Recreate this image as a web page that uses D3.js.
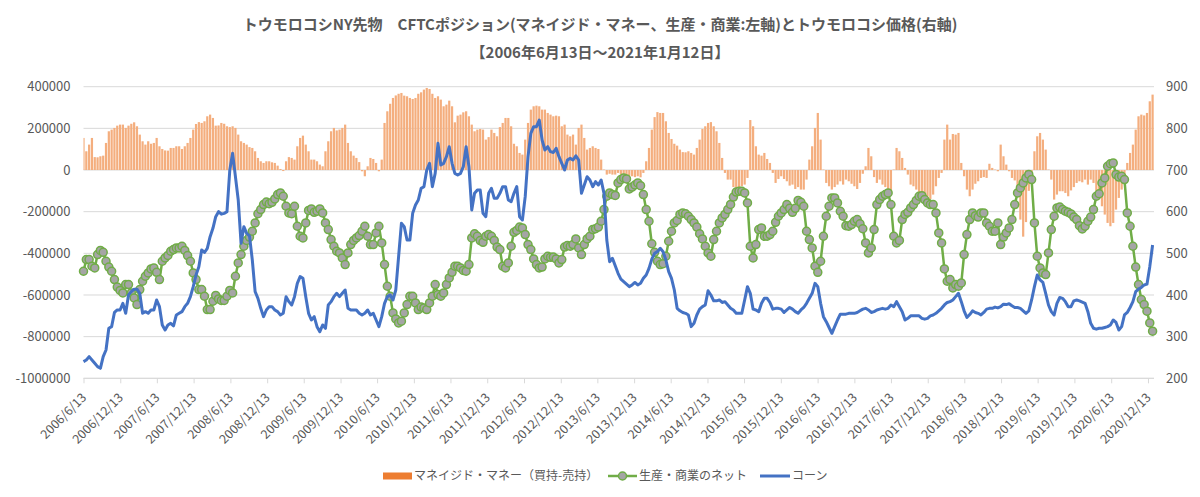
<!DOCTYPE html>
<html><head><meta charset="utf-8">
<script src="https://cdn.jsdelivr.net/npm/d3@7"></script>
<style>
body{margin:0;background:#fff;}
text{font-family:"Noto Sans CJK JP","Noto Sans",sans-serif;}
</style>
</head><body>
<svg id="chart" width="1200" height="497"></svg>
<script>
// ---------- DATA (2-weekly samples) ----------
const startDate = "2006-06-13";
const endDate = "2021-01-12";
const stepDays = 14;

// マネイジド・マネー（買持-売持） (contracts)
const managedMoney = [
154000,90000,122000,154000,62000,61000,66000,69000,130000,186000,
194000,202000,213000,218000,218000,202000,213000,222000,229000,210000,
170000,138000,122000,138000,126000,130000,154000,114000,101000,94000,
93000,106000,106000,114000,114000,101000,114000,130000,154000,194000,
221000,230000,226000,234000,258000,266000,250000,213000,214000,226000,
222000,210000,206000,210000,202000,170000,138000,130000,122000,110000,
106000,90000,58000,42000,34000,42000,42000,37000,34000,21000,
5000,-5000,42000,62000,58000,50000,114000,154000,165000,122000,
90000,50000,50000,42000,26000,18000,90000,138000,186000,202000,
190000,194000,202000,218000,130000,90000,69000,58000,38000,-6000,
-30000,18000,58000,53000,34000,-6000,50000,226000,282000,318000,
346000,358000,366000,370000,357000,354000,346000,341000,346000,366000,
373000,386000,394000,389000,366000,346000,354000,338000,306000,314000,
333000,306000,229000,261000,266000,277000,282000,258000,218000,186000,
194000,197000,194000,146000,158000,194000,178000,162000,206000,226000,
250000,250000,210000,126000,114000,82000,74000,146000,226000,290000,
306000,309000,306000,290000,290000,274000,266000,258000,261000,258000,
210000,218000,170000,162000,170000,122000,202000,218000,154000,98000,
106000,114000,106000,101000,50000,2000,-22000,-18000,-22000,-22000,
-14000,-22000,-27000,-27000,-27000,-30000,-34000,-30000,-35000,-14000,
42000,106000,194000,254000,278000,274000,274000,234000,178000,149000,
126000,117000,98000,86000,85000,90000,82000,74000,106000,146000,
197000,210000,226000,230000,210000,186000,130000,58000,-14000,-46000,
-46000,-82000,-94000,-91000,-78000,-70000,-38000,240000,210000,114000,
74000,69000,82000,53000,34000,-14000,-62000,-43000,-30000,-43000,
-54000,-75000,-70000,-91000,-82000,-94000,-94000,-46000,50000,114000,
202000,274000,146000,2000,-62000,-78000,-94000,-82000,-70000,-54000,
-70000,-46000,-54000,-66000,-78000,-91000,-62000,-18000,18000,106000,
66000,-34000,-62000,-46000,-70000,-82000,-98000,-107000,2000,106000,
90000,58000,10000,-22000,-70000,-78000,-94000,-107000,-114000,-120000,
-126000,-139000,-118000,-78000,-38000,-14000,146000,218000,146000,173000,
170000,178000,34000,-30000,-94000,-126000,-94000,-66000,-54000,-38000,
-34000,-38000,30000,10000,2000,-6000,122000,66000,26000,-6000,
-38000,-50000,-110000,-238000,-320000,-250000,-100000,-14000,90000,162000,
178000,146000,98000,2000,-46000,-142000,-118000,-102000,-102000,-110000,
-126000,-98000,-82000,-62000,-54000,-59000,-46000,-70000,-46000,-62000,
-102000,-134000,-174000,-214000,-254000,-270000,-254000,-190000,-134000,-94000,
-22000,34000,82000,122000,194000,258000,266000,262000,274000,330000,
362000
];

// 生産・商業のネット (contracts)
const producerNet = [
-486000,-430000,-430000,-462000,-470000,-406000,-386000,-395000,-438000,-466000,
-486000,-526000,-562000,-578000,-590000,-550000,-550000,-590000,-614000,-646000,
-574000,-534000,-510000,-494000,-475000,-470000,-491000,-526000,-438000,-422000,
-410000,-390000,-382000,-374000,-374000,-366000,-386000,-411000,-438000,-494000,
-526000,-574000,-574000,-606000,-670000,-670000,-630000,-602000,-619000,-626000,
-626000,-606000,-578000,-590000,-510000,-446000,-406000,-366000,-338000,-322000,
-294000,-254000,-210000,-190000,-166000,-154000,-162000,-155000,-139000,-118000,
-110000,-126000,-174000,-206000,-210000,-174000,-270000,-318000,-326000,-254000,
-194000,-187000,-203000,-198000,-187000,-206000,-254000,-286000,-334000,-366000,
-390000,-398000,-422000,-454000,-398000,-358000,-338000,-326000,-315000,-294000,
-270000,-318000,-358000,-358000,-302000,-270000,-350000,-454000,-558000,-606000,
-686000,-715000,-734000,-726000,-686000,-646000,-606000,-606000,-638000,-670000,
-658000,-662000,-670000,-638000,-606000,-550000,-598000,-606000,-590000,-550000,
-518000,-491000,-462000,-462000,-470000,-482000,-486000,-454000,-326000,-306000,
-318000,-339000,-347000,-318000,-310000,-318000,-338000,-370000,-382000,-462000,
-470000,-446000,-366000,-299000,-290000,-274000,-278000,-310000,-358000,-382000,
-427000,-454000,-470000,-466000,-427000,-414000,-419000,-418000,-427000,-446000,
-430000,-370000,-362000,-366000,-358000,-331000,-374000,-406000,-358000,-331000,
-318000,-286000,-282000,-274000,-246000,-190000,-126000,-110000,-118000,-122000,
-62000,-46000,-38000,-43000,-91000,-82000,-72000,-62000,-75000,-118000,
-190000,-246000,-354000,-395000,-438000,-454000,-450000,-414000,-342000,-294000,
-254000,-242000,-213000,-206000,-210000,-222000,-238000,-254000,-274000,-306000,
-331000,-366000,-398000,-414000,-334000,-294000,-254000,-230000,-213000,-190000,
-165000,-130000,-106000,-102000,-102000,-110000,-158000,-366000,-422000,-358000,
-286000,-278000,-318000,-318000,-310000,-294000,-251000,-222000,-206000,-190000,
-166000,-184000,-203000,-184000,-146000,-155000,-174000,-294000,-334000,-374000,
-462000,-491000,-438000,-318000,-222000,-174000,-134000,-134000,-158000,-198000,
-222000,-267000,-270000,-262000,-246000,-238000,-258000,-282000,-350000,-398000,
-374000,-286000,-166000,-142000,-126000,-118000,-110000,-166000,-318000,-350000,
-338000,-238000,-213000,-203000,-182000,-166000,-146000,-126000,-123000,-142000,
-158000,-166000,-166000,-206000,-302000,-350000,-475000,-534000,-526000,-566000,
-550000,-558000,-542000,-406000,-310000,-238000,-206000,-219000,-226000,-206000,
-206000,-254000,-270000,-294000,-294000,-254000,-358000,-322000,-302000,-278000,
-238000,-166000,-110000,-86000,-62000,-38000,-21000,-46000,-254000,-414000,
-470000,-494000,-502000,-398000,-286000,-222000,-182000,-178000,-190000,-198000,
-203000,-211000,-226000,-238000,-267000,-283000,-270000,-246000,-226000,-190000,
-126000,-114000,-62000,-38000,18000,30000,34000,-22000,-34000,-30000,
-46000,-206000,-270000,-366000,-466000,-550000,-622000,-646000,-678000,-734000,
-774000
];

// コーン (cents per bushel)
const cornPrice = [
240,244,252,244,236,228,224,252,268,320,
324,358,364,364,380,356,400,408,414,414,
404,356,360,356,364,364,388,372,328,316,
328,332,326,352,356,360,372,380,396,420,
448,468,508,502,512,540,560,588,600,594,
596,600,700,740,684,628,524,564,548,542,
484,408,392,368,348,364,372,372,364,360,
352,356,396,384,376,396,428,444,440,396,
356,340,348,324,312,328,320,376,384,396,
404,396,404,412,368,364,364,364,356,352,
356,364,352,356,340,324,348,380,396,400,
388,412,492,572,564,532,532,596,616,628,
656,660,700,716,660,692,764,712,716,732,
756,716,692,688,692,708,756,708,604,644,
652,652,596,588,644,656,632,632,644,660,
660,628,624,644,660,588,580,636,732,788,
804,804,820,772,748,756,744,742,752,732,
716,700,724,728,724,734,724,644,664,684,
676,660,672,664,676,644,532,480,488,470,
452,438,432,426,420,424,430,424,428,440,
448,464,486,500,504,512,504,484,456,440,
412,368,362,358,356,352,324,332,352,366,
372,376,410,400,386,386,388,382,384,376,
368,364,356,356,356,388,420,404,366,364,
360,380,392,392,382,366,368,368,366,358,
364,370,366,360,356,364,370,380,392,404,
428,420,380,348,336,322,308,324,340,354,
354,354,356,356,356,358,362,366,368,364,
358,360,364,366,368,366,368,376,372,384,
372,360,340,344,350,350,350,350,344,342,
344,350,352,356,362,368,376,382,384,388,
396,404,384,362,346,353,362,358,356,352,
358,366,368,368,371,369,372,378,377,379,
374,370,370,368,362,356,362,388,420,448,
436,430,404,376,360,352,380,394,392,384,
372,372,386,388,386,383,380,360,332,320,
318,320,320,322,324,328,340,334,316,324,
352,358,370,384,408,414,418,424,426,468,
520
];

const xTickLabels = [
"2006/6/13","2006/12/13","2007/6/13","2007/12/13","2008/6/13","2008/12/13",
"2009/6/13","2009/12/13","2010/6/13","2010/12/13","2011/6/13","2011/12/13",
"2012/6/13","2012/12/13","2013/6/13","2013/12/13","2014/6/13","2014/12/13",
"2015/6/13","2015/12/13","2016/6/13","2016/12/13","2017/6/13","2017/12/13",
"2018/6/13","2018/12/13","2019/6/13","2019/12/13","2020/6/13","2020/12/13"
];
const leftTicks = [-1000000,-800000,-600000,-400000,-200000,0,200000,400000];
const rightTicks = [200,300,400,500,600,700,800,900];

const titleLine1 = "トウモロコシNY先物　CFTCポジション(マネイジド・マネー、生産・商業:左軸)とトウモロコシ価格(右軸)";
const titleLine2 = "【2006年6月13日～2021年1月12日】";
const legendNames = ["マネイジド・マネー（買持-売持）","生産・商業のネット","コーン"];

// ---------- CHART ----------
const svg = d3.select("#chart");
const W = 1200, H = 497;
const plot = {left: 83.5, right: 1154, top: 86.7, bottom: 378.3};
const textColor = "#595959";
const gridColor = "#D9D9D9";

const parseIso = d3.timeParse("%Y-%m-%d");
const parseTick = d3.timeParse("%Y/%m/%d");
const t0 = parseIso(startDate);
const dates = managedMoney.map((_, i) => d3.timeDay.offset(t0, i * stepDays));

const x = d3.scaleTime().domain([t0, parseIso(endDate)]).range([plot.left, plot.right]);
const yL = d3.scaleLinear().domain([-1000000, 400000]).range([plot.bottom, plot.top]);
const yR = d3.scaleLinear().domain([200, 900]).range([plot.bottom, plot.top]);

svg.append("rect").attr("width", W).attr("height", H).attr("fill", "#fff");

// gridlines
svg.append("g").selectAll("line").data(leftTicks).join("line")
  .attr("x1", plot.left).attr("x2", plot.right)
  .attr("y1", d => yL(d)).attr("y2", d => yL(d))
  .attr("stroke", gridColor).attr("stroke-width", 1);

// left axis
const gl = svg.append("g").attr("transform", `translate(${plot.left},0)`)
  .call(d3.axisLeft(yL).tickValues(leftTicks).tickFormat(d => String(d)).tickSize(0).tickPadding(13));
gl.select(".domain").remove();
gl.selectAll("text").attr("fill", textColor).attr("font-size", 13);

// right axis
const gr = svg.append("g").attr("transform", `translate(${plot.right},0)`)
  .call(d3.axisRight(yR).tickValues(rightTicks).tickFormat(d => String(d)).tickSize(0).tickPadding(12));
gr.select(".domain").remove();
gr.selectAll("text").attr("fill", textColor).attr("font-size", 13);

// bottom axis
const tickDates = xTickLabels.map(s => parseTick(s));
const gb = svg.append("g").attr("transform", `translate(0,${plot.bottom})`)
  .call(d3.axisBottom(x).tickValues(tickDates).tickFormat((d, i) => xTickLabels[i]).tickSize(5).tickSizeOuter(0));
gb.select(".domain").attr("stroke", gridColor).attr("d", `M${plot.left},0H${plot.right}`);
gb.selectAll(".tick line").attr("stroke", gridColor);
gb.selectAll(".tick text")
  .attr("fill", textColor).attr("font-size", 12.5)
  .attr("text-anchor", "end")
  .attr("transform", "translate(0,17) rotate(-45)")
  .attr("dy", "0.35em").attr("y", 0).attr("x", 0);

// clip
svg.append("clipPath").attr("id", "clip").append("rect")
  .attr("x", plot.left).attr("y", plot.top - 5).attr("width", plot.right - plot.left + 2).attr("height", plot.bottom - plot.top + 10);

// bars
const bw = x(d3.timeDay.offset(t0, stepDays)) - x(t0);
svg.append("g").attr("clip-path", "url(#clip)").selectAll("rect").data(managedMoney).join("rect")
  .attr("x", (d, i) => x(dates[i]) - bw / 2 + 0.3)
  .attr("width", bw - 0.6)
  .attr("y", d => yL(Math.max(0, d)))
  .attr("height", d => Math.abs(yL(d) - yL(0)))
  .attr("fill", "#F4AE7E");

// green line with markers
const gLine = d3.line().x((d, i) => x(dates[i])).y(d => yL(d));
svg.append("path").datum(producerNet).attr("d", gLine)
  .attr("fill", "none").attr("stroke", "#70AD47").attr("stroke-width", 2.5).attr("stroke-linejoin", "round");
svg.append("g").selectAll("circle").data(producerNet).join("circle")
  .attr("cx", (d, i) => x(dates[i])).attr("cy", d => yL(d)).attr("r", 4)
  .attr("fill", "#A5A5A5").attr("stroke", "#70AD47").attr("stroke-width", 1.5);

// blue line
const bLine = d3.line().x((d, i) => x(dates[i])).y(d => yR(d));
svg.append("path").datum(cornPrice).attr("d", bLine)
  .attr("fill", "none").attr("stroke", "#4472C4").attr("stroke-width", 3).attr("stroke-linejoin", "round");

// title
svg.append("text").attr("x", 600).attr("y", 30).attr("text-anchor", "middle")
  .attr("font-size", 15).attr("font-weight", "bold").attr("fill", textColor).text(titleLine1);
svg.append("text").attr("x", 600).attr("y", 58).attr("text-anchor", "middle")
  .attr("font-size", 15).attr("font-weight", "bold").attr("fill", textColor).text(titleLine2);

// legend
const ly = 476;
const lg = svg.append("g");
lg.append("rect").attr("x", 383).attr("y", ly - 3.5).attr("width", 29).attr("height", 7).attr("fill", "#ED7D31");
lg.append("text").attr("x", 414).attr("y", ly).attr("dy", "0.35em").attr("font-size", 12).attr("fill", textColor).text(legendNames[0]);
lg.append("line").attr("x1", 608).attr("x2", 637).attr("y1", ly).attr("y2", ly).attr("stroke", "#70AD47").attr("stroke-width", 2.5);
lg.append("circle").attr("cx", 622.5).attr("cy", ly).attr("r", 4).attr("fill", "#A5A5A5").attr("stroke", "#70AD47").attr("stroke-width", 1.5);
lg.append("text").attr("x", 639).attr("y", ly).attr("dy", "0.35em").attr("font-size", 12).attr("fill", textColor).text(legendNames[1]);
lg.append("line").attr("x1", 760).attr("x2", 790).attr("y1", ly).attr("y2", ly).attr("stroke", "#4472C4").attr("stroke-width", 3);
lg.append("text").attr("x", 792).attr("y", ly).attr("dy", "0.35em").attr("font-size", 12).attr("fill", textColor).text(legendNames[2]);
</script>
</body></html>
